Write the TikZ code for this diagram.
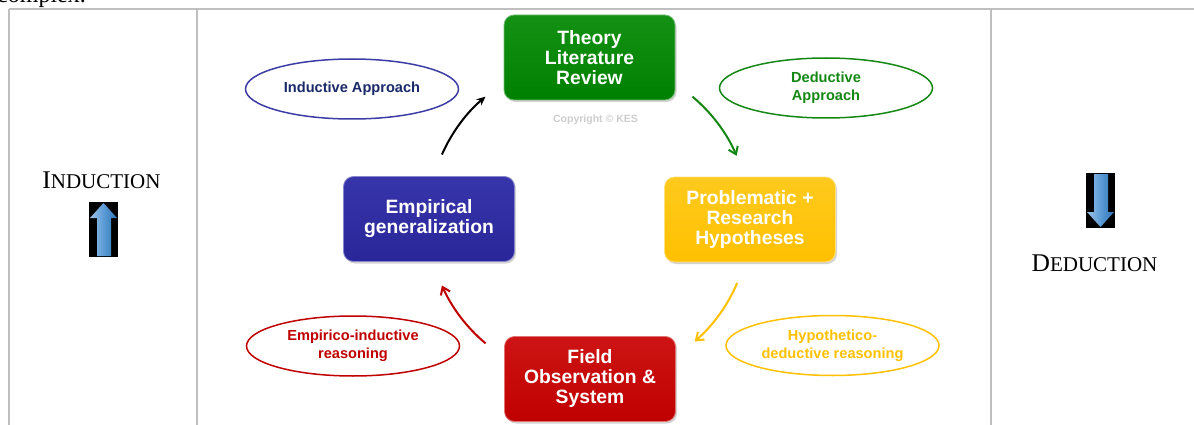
\documentclass[tikz,border=0pt]{standalone}
\usepackage{fontspec}
\setmainfont{Liberation Serif}
\newfontfamily\arial{Liberation Sans}
\usetikzlibrary{shapes.geometric,arrows.meta,shadows,calc}
\definecolor{gridgray}{RGB}{191,191,191}
\definecolor{boxgreen}{RGB}{0,128,0}
\definecolor{boxgreenl}{RGB}{20,145,20}
\definecolor{boxyellow}{RGB}{255,192,0}
\definecolor{boxyellowl}{RGB}{255,202,30}
\definecolor{boxblue}{RGB}{40,38,152}
\definecolor{boxbluel}{RGB}{55,53,170}
\definecolor{boxred}{RGB}{192,0,0}
\definecolor{boxredl}{RGB}{205,20,20}
\definecolor{ellblue}{RGB}{60,60,165}
\definecolor{txtnavy}{RGB}{25,40,105}
\definecolor{ellgreen}{RGB}{20,135,20}
\definecolor{ellyellow}{RGB}{255,192,0}
\definecolor{ellred}{RGB}{192,0,0}
\definecolor{arrowblue}{RGB}{91,155,213}
\definecolor{arrowbluel}{RGB}{157,195,230}
\definecolor{arrowblued}{RGB}{46,117,182}
\definecolor{copygray}{RGB}{205,205,205}
\begin{document}
\begin{tikzpicture}[x=1pt,y=-1pt,
  gridline/.style={draw=gridgray,line width=1.5pt},
  cyclebox/.style={rectangle,rounded corners=10pt,minimum width=171pt,minimum height=85pt,
    inner sep=0pt,text=white,align=center,
    font=\arial\bfseries\fontsize{19.3}{20}\selectfont,
    drop shadow={shadow xshift=1.5pt,shadow yshift=-2pt,opacity=0.35}},
  approach/.style={ellipse,line width=1.5pt,minimum width=213pt,minimum height=60pt,
    inner sep=0pt,align=center,font=\arial\bfseries\fontsize{14.6}{18}\selectfont},
  cyclearrow/.style={line width=2pt,-{Straight Barb[length=7pt,width=10pt,line width=2pt]}},
  sidelabel/.style={anchor=base,inner sep=0pt}
]
\useasboundingbox (0,0) rectangle (1194,425);
% clipped text at top
\node[anchor=base west,inner sep=0pt,font=\fontsize{24}{24}\selectfont] (cx) at (-3,3) {complex.};
% table lines
\draw[gridline] (9,9) -- (1194,9);
\draw[gridline] (9,9) -- (9,425);
\draw[gridline] (197,9) -- (197,425);
\draw[gridline] (991,9) -- (991,425);

% boxes
\node[cyclebox,top color=boxgreenl,bottom color=boxgreen,draw=boxgreenl!60!white,line width=0.8pt] (theory) at (589.5,57.5) {Theory\\Literature\\Review};
\node[cyclebox,top color=boxyellowl,bottom color=boxyellow,draw=boxyellow!50!white,line width=0.8pt] (prob) at (750,219.5) {Problematic +\\Research\\Hypotheses};
\node[cyclebox,top color=boxbluel,bottom color=boxblue,draw=boxbluel!60!white,line width=0.8pt] (emp) at (429,219) {Empirical\\generalization};
\node[cyclebox,top color=boxredl,bottom color=boxred,draw=boxredl!60!white,line width=0.8pt] (field) at (590,379) {Field\\Observation \&\\System};

\node[font=\arial\bfseries\fontsize{10.5}{11}\selectfont,text=copygray,inner sep=0pt] (copy) at (595.5,120) {Copyright © KES};

% ellipses
\node[approach,draw=ellblue,text=txtnavy] (ind) at (352,89) {Inductive Approach};
\node[approach,draw=ellgreen,text=ellgreen] (ded) at (826,88) {Deductive\\Approach};
\node[approach,draw=ellyellow,text=ellyellow] (hyp) at (832.5,345.5) {Hypothetico-\\deductive reasoning};
\node[approach,draw=ellred,text=ellred] (empind) at (353,346) {Empirico-inductive\\reasoning};

% cycle arrows (arcs round a common centre)
\coordinate (C) at (589,220);
\coordinate (a1) at ($(C)+(156:161pt)$);
\coordinate (a2) at ($(C)+(50:161pt)$);
\coordinate (a3) at ($(C)+(-23:161pt)$);
\coordinate (a4) at ($(C)+(-130:161pt)$);
\draw[line width=2pt,black,-{Stealth[length=9pt,width=8pt]}] (a1) arc[start angle=156,end angle=130,radius=161pt];
\draw[cyclearrow,ellgreen] (a2) arc[start angle=50,end angle=23.5,radius=161pt];
\draw[cyclearrow,ellyellow] (a3) arc[start angle=-23,end angle=-49,radius=161pt];
\draw[cyclearrow,ellred] (a4) arc[start angle=-130,end angle=-156,radius=161pt];

% left column
\node[sidelabel] (induction) at (101.5,188) {\fontsize{25.5}{25.5}\selectfont I\fontsize{21}{21}\selectfont NDUCTION};
\fill[black] (89,202) rectangle (118,257);
\shade[left color=arrowbluel,right color=arrowblued,middle color=arrowblue]
  (97,256) -- (97,218) -- (90,218) -- (103.5,203) -- (117,218) -- (111,218) -- (111,256) -- cycle;

% right column
\fill[black] (1086,173) rectangle (1115,228);
\shade[left color=arrowbluel,right color=arrowblued,middle color=arrowblue]
  (1094,174) -- (1094,212) -- (1087,212) -- (1100.5,227) -- (1114,212) -- (1108,212) -- (1108,174) -- cycle;
\node[sidelabel] (deduction) at (1094.5,271) {\fontsize{25.5}{25.5}\selectfont D\fontsize{21}{21}\selectfont EDUCTION};
\end{tikzpicture}
\end{document}
